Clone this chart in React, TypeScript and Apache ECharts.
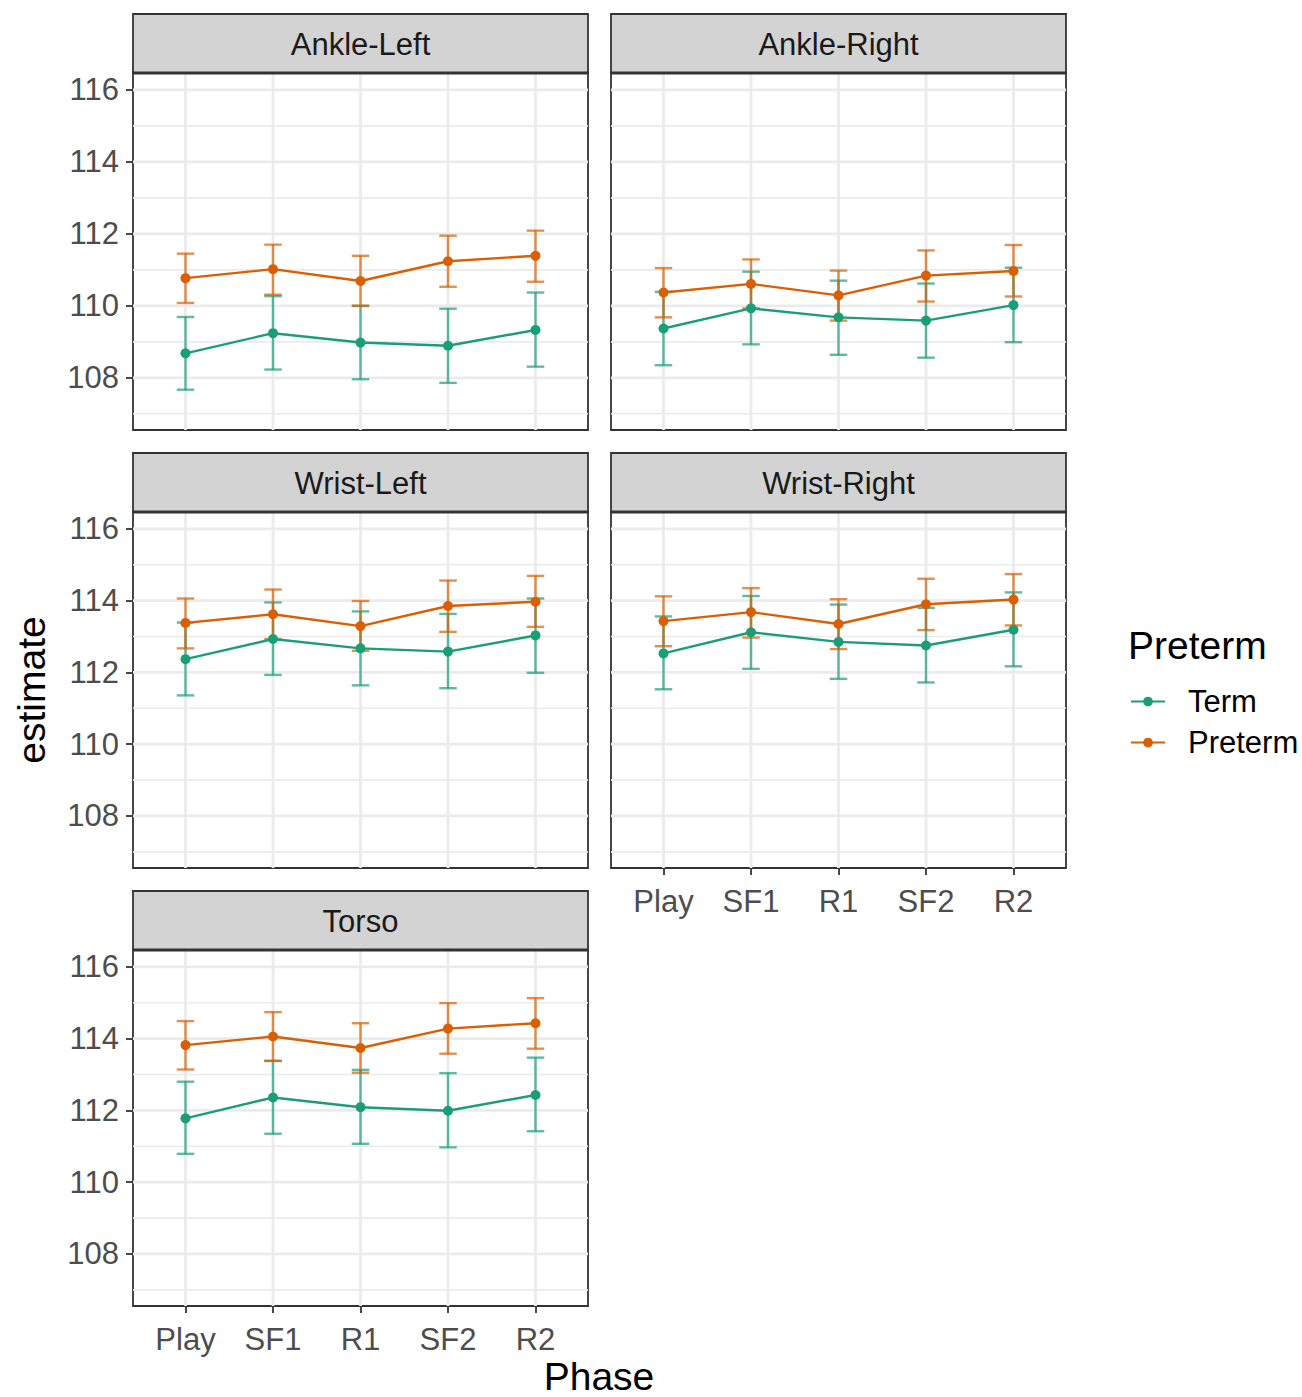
import React, { useEffect, useRef } from "react";
import * as echarts from "echarts";

const phases = ["Play", "SF1", "R1", "SF2", "R2"];
const panelNames = ["Ankle-Left", "Ankle-Right", "Wrist-Left", "Wrist-Right", "Torso"];
const groups = ["Term", "Preterm"];

const termEstimate = [
  [108.68, 109.24, 108.98, 108.89, 109.33],
  [109.37, 109.93, 109.68, 109.59, 110.02],
  [112.37, 112.93, 112.67, 112.58, 113.03],
  [112.53, 113.12, 112.85, 112.75, 113.19],
  [111.78, 112.36, 112.09, 111.99, 112.43],
];
const termLower = [
  [107.67, 108.23, 107.96, 107.86, 108.31],
  [108.35, 108.93, 108.64, 108.56, 108.99],
  [111.36, 111.93, 111.64, 111.56, 111.99],
  [111.53, 112.10, 111.82, 111.72, 112.17],
  [110.79, 111.35, 111.07, 110.97, 111.42],
];
const termUpper = [
  [109.69, 110.27, 110.0, 109.92, 110.37],
  [110.39, 110.95, 110.7, 110.62, 111.06],
  [113.39, 113.95, 113.7, 113.63, 114.06],
  [113.56, 114.13, 113.89, 113.8, 114.23],
  [112.8, 113.38, 113.13, 113.04, 113.47],
];
const pretermEstimate = [
  [110.77, 111.02, 110.69, 111.24, 111.39],
  [110.37, 110.61, 110.29, 110.84, 110.97],
  [113.38, 113.62, 113.29, 113.85, 113.97],
  [113.43, 113.68, 113.35, 113.9, 114.03],
  [113.82, 114.06, 113.74, 114.28, 114.43],
];
const pretermLower = [
  [110.08, 110.31, 110.0, 110.53, 110.67],
  [109.68, 109.93, 109.59, 110.12, 110.26],
  [112.67, 112.93, 112.6, 113.13, 113.27],
  [112.73, 112.97, 112.65, 113.18, 113.31],
  [113.14, 113.38, 113.05, 113.58, 113.72],
];
const pretermUpper = [
  [111.45, 111.7, 111.39, 111.95, 112.09],
  [111.05, 111.29, 110.98, 111.54, 111.69],
  [114.06, 114.31, 113.99, 114.56, 114.69],
  [114.12, 114.35, 114.04, 114.61, 114.74],
  [114.49, 114.74, 114.43, 114.99, 115.13],
];

const yMajor = [108, 110, 112, 114, 116];
const yMinor = [107, 109, 111, 113, 115];

const Y_MIN = 106.55;
const Y_MAX = 116.47;
const X_MIN = 0.4;
const X_MAX = 5.6;

const COLORS = ["#1B9E77", "#D95F02"];
const FONT = "'Liberation Sans', Arial, Helvetica, sans-serif";

const layout = [
  { left: 133, top: 73, height: 357 },
  { left: 611, top: 73, height: 357 },
  { left: 133, top: 512, height: 356 },
  { left: 611, top: 512, height: 356 },
  { left: 133, top: 950, height: 356 },
];
const PANEL_W = 455;
const STRIP_H = 59;

export default function App() {
  const ref = useRef<HTMLDivElement>(null);

  useEffect(() => {
    document.body.style.margin = "0";
    if (!ref.current) return;
    const chart = echarts.init(ref.current, undefined, { renderer: "svg" });

    const xs = phases.map((_, i) => i + 1);
    const grids: any[] = [];
    const xAxes: any[] = [];
    const yAxes: any[] = [];
    const series: any[] = [];
    const graphics: any[] = [];

    layout.forEach((l, p) => {
      grids.push({
        left: l.left,
        top: l.top,
        width: PANEL_W,
        height: l.height,
        show: true,
        backgroundColor: "#FFFFFF",
        borderColor: "#333333",
        borderWidth: 1.8,
        containLabel: false,
      });
      const showX = p === 3 || p === 4;
      const showY = p === 0 || p === 2 || p === 4;
      xAxes.push({
        type: "value",
        gridIndex: p,
        min: X_MIN,
        max: X_MAX,
        axisLine: { show: false },
        splitLine: { show: false },
        axisTick: {
          show: showX,
          customValues: xs,
          length: 7,
          lineStyle: { color: "#333333", width: 1.8 },
        },
        axisLabel: {
          show: showX,
          customValues: xs,
          formatter: (v: number) => phases[Math.round(v) - 1] ?? "",
          fontSize: 31,
          color: "#4D4D4D",
          margin: 18,
          fontFamily: FONT,
        },
      });
      yAxes.push({
        type: "value",
        gridIndex: p,
        min: Y_MIN,
        max: Y_MAX,
        axisLine: { show: false },
        splitLine: { show: false },
        axisTick: {
          show: showY,
          customValues: yMajor,
          length: 7,
          lineStyle: { color: "#333333", width: 1.8 },
        },
        axisLabel: {
          show: showY,
          customValues: yMajor,
          fontSize: 31,
          color: "#4D4D4D",
          margin: 14,
          fontFamily: FONT,
        },
      });

      // grid lines (kind 0 = major horizontal, 1 = minor horizontal, 2 = vertical)
      const gridData: number[][] = [
        ...yMinor.map((v) => [1, v]),
        ...yMajor.map((v) => [0, v]),
        ...xs.map((v) => [2, v]),
      ];
      series.push({
        type: "custom",
        xAxisIndex: p,
        yAxisIndex: p,
        silent: true,
        z: 1,
        clip: true,
        data: gridData,
        renderItem: (params: any, api: any) => {
          const kind = api.value(0);
          const v = api.value(1);
          let p1, p2;
          if (kind === 2) {
            p1 = api.coord([v, Y_MIN]);
            p2 = api.coord([v, Y_MAX]);
          } else {
            p1 = api.coord([X_MIN, v]);
            p2 = api.coord([X_MAX, v]);
          }
          return {
            type: "line",
            shape: { x1: p1[0], y1: p1[1], x2: p2[0], y2: p2[1] },
            style: { stroke: "#EBEBEB", lineWidth: kind === 1 ? 1.6 : 2.8 },
          };
        },
      });

      const est = [termEstimate[p], pretermEstimate[p]];
      const lo = [termLower[p], pretermLower[p]];
      const hi = [termUpper[p], pretermUpper[p]];

      groups.forEach((g, gi) => {
        series.push({
          type: "custom",
          name: g + " CI",
          xAxisIndex: p,
          yAxisIndex: p,
          silent: true,
          z: 2,
          data: xs.map((x, i) => [x, lo[gi][i], hi[gi][i]]),
          renderItem: (params: any, api: any) => {
            const x = api.value(0);
            const a = api.value(1);
            const b = api.value(2);
            const top = api.coord([x, b]);
            const bot = api.coord([x, a]);
            const tl = api.coord([x - 0.1, b]);
            const tr = api.coord([x + 0.1, b]);
            const bl = api.coord([x - 0.1, a]);
            const br = api.coord([x + 0.1, a]);
            const style = { stroke: COLORS[gi], lineWidth: 2.4, opacity: 0.7 };
            return {
              type: "group",
              children: [
                { type: "line", shape: { x1: top[0], y1: top[1], x2: bot[0], y2: bot[1] }, style },
                { type: "line", shape: { x1: tl[0], y1: tl[1], x2: tr[0], y2: tr[1] }, style },
                { type: "line", shape: { x1: bl[0], y1: bl[1], x2: br[0], y2: br[1] }, style },
              ],
            };
          },
        });
      });

      groups.forEach((g, gi) => {
        series.push({
          type: "line",
          name: g,
          xAxisIndex: p,
          yAxisIndex: p,
          z: 3,
          data: xs.map((x, i) => [x, est[gi][i]]),
          symbol: "circle",
          symbolSize: 10,
          showSymbol: true,
          lineStyle: { color: COLORS[gi], width: 2.4 },
          itemStyle: { color: COLORS[gi] },
          emphasis: { disabled: true },
        });
      });

      // strip
      graphics.push({
        type: "rect",
        shape: { x: l.left, y: l.top - STRIP_H, width: PANEL_W, height: STRIP_H },
        style: { fill: "#D3D3D3", stroke: "#333333", lineWidth: 1.8 },
        z: 10,
      });
      graphics.push({
        type: "line",
        shape: { x1: l.left, y1: l.top, x2: l.left + PANEL_W, y2: l.top },
        style: { stroke: "#333333", lineWidth: 3 },
        z: 11,
      });
      graphics.push({
        type: "text",
        x: l.left + PANEL_W / 2,
        y: l.top - STRIP_H / 2 + 1,
        style: {
          text: panelNames[p],
          fontSize: 31,
          fontFamily: FONT,
          fill: "#1A1A1A",
          align: "center",
          verticalAlign: "middle",
        },
        z: 11,
      });
    });

    graphics.push({
      type: "text",
      x: 31,
      y: 690,
      rotation: Math.PI / 2,
      style: {
        text: "estimate",
        fontSize: 39,
        fontFamily: FONT,
        fill: "#000000",
        align: "center",
        verticalAlign: "middle",
      },
    });
    graphics.push({
      type: "text",
      x: 599,
      y: 1376,
      style: {
        text: "Phase",
        fontSize: 39,
        fontFamily: FONT,
        fill: "#000000",
        align: "center",
        verticalAlign: "middle",
      },
    });
    graphics.push({
      type: "text",
      x: 1128,
      y: 645,
      style: {
        text: "Preterm",
        fontSize: 39,
        fontFamily: FONT,
        fill: "#000000",
        align: "left",
        verticalAlign: "middle",
      },
    });

    chart.setOption({
      animation: false,
      textStyle: { fontFamily: FONT },
      grid: grids,
      xAxis: xAxes,
      yAxis: yAxes,
      series,
      graphic: graphics,
      legend: {
        data: groups,
        orient: "vertical",
        left: 1125,
        top: 681,
        itemWidth: 34,
        itemHeight: 12,
        itemGap: 10,
        selectedMode: false,
        textStyle: {
          fontSize: 31,
          lineHeight: 31,
          color: "#000000",
          fontFamily: FONT,
          padding: [0, 0, 0, 18],
        },
      },
    });

    return () => chart.dispose();
  }, []);

  return <div ref={ref} style={{ width: 1302, height: 1397 }} />;
}
